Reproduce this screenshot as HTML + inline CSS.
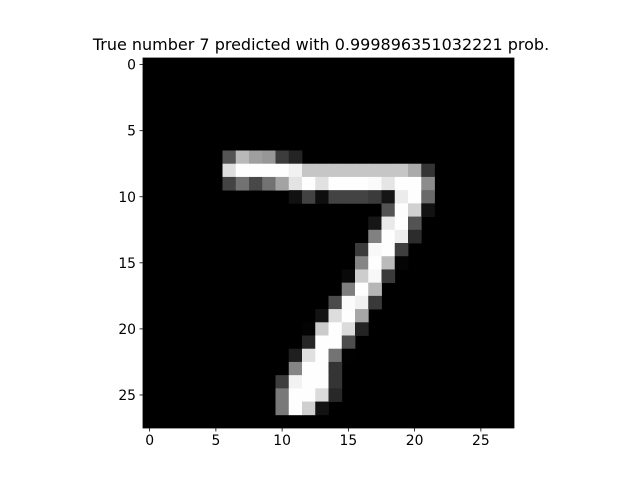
<!DOCTYPE html>
<html><head><meta charset="utf-8"><style>
html,body{margin:0;padding:0;background:#fff;}
svg{display:block;font-family:"DejaVu Sans","Liberation Sans",sans-serif;}
</style></head><body>
<svg id="chart" width="640" height="480" viewBox="0 0 640 480">
<rect x="0" y="0" width="640" height="480" fill="#fff"/>
<text x="321" y="50" font-size="16" text-anchor="middle">True number 7 predicted with 0.999896351032221 prob.</text>
<g id="img"></g>
<g id="axes"></g>
</svg>
<script>
// MNIST digit pixel intensities: rows with nonzero pixels
const rowIndex = [7,8,9,10,11,12,13,14,15,16,17,18,19,20,21,22,23,24,25,26];
const rowStart = [6,6,6,11,18,17,17,16,16,15,15,14,13,12,12,11,11,10,10,10];
const rowValues = [
 [84,185,159,151,60,36],
 [222,254,254,254,254,241,198,198,198,198,198,198,198,198,170,52],
 [67,114,72,114,163,227,254,225,254,254,254,250,229,254,254,140],
 [17,66,14,67,67,67,59,21,236,254,106],
 [83,253,209,18],
 [22,233,255,83],
 [129,254,238,44],
 [59,249,254,62],
 [133,254,187,5],
 [9,205,248,58],
 [126,254,182],
 [75,251,240,57],
 [19,221,254,166],
 [3,203,254,219,35],
 [38,254,254,77],
 [31,224,254,115,1],
 [133,254,254,52],
 [61,242,254,254,52],
 [121,254,254,219,40],
 [121,254,207,18]
];
const xTicks = [0,5,10,15,20,25];
const yTicks = [0,5,10,15,20,25];

const NS = "http://www.w3.org/2000/svg";
const X0 = 143, X1 = 514, Y0 = 58, Y1 = 428, N = 28;
const cw = (X1 - X0) / N, ch = (Y1 - Y0) / N;
const xs = c => X0 + c * cw;
const ys = r => Y0 + r * ch;
const img = document.getElementById('img');
const axes = document.getElementById('axes');
function mk(tag, attrs, parent){ const e=document.createElementNS(NS,tag); for(const k in attrs) e.setAttribute(k,attrs[k]); parent.appendChild(e); return e; }

const bg = mk('rect',{x:X0,y:Y0,width:X1-X0,height:Y1-Y0,fill:'#000'},img);



rowIndex.forEach((r,i)=>{
  rowValues[i].forEach((v,j)=>{
    const c = rowStart[i]+j;
    const g = Math.round(v*255/255);
    const p = mk('rect',{x:xs(c).toFixed(2),y:ys(r).toFixed(2),width:(cw+0.4).toFixed(2),height:(ch+0.4).toFixed(2),fill:`rgb(${g},${g},${g})`},img);
    
    
  });
});

const frame = mk('rect',{x:X0,y:Y0,width:X1-X0,height:Y1-Y0,fill:'none',stroke:'#000','stroke-width':0.8},axes);



xTicks.forEach(t=>{
  const x = xs(t+0.5);
  const l = mk('line',{x1:x,y1:Y1,x2:x,y2:Y1+3.5,stroke:'#000','stroke-width':0.8},axes);
  
  
  const tx = mk('text',{x:x,y:Y1+17,'font-size':13.9,'text-anchor':'middle'},axes);
  tx.textContent = t;
  
  
});
yTicks.forEach(t=>{
  const y = ys(t+0.5);
  const l = mk('line',{x1:X0-3.5,y1:y,x2:X0,y2:y,stroke:'#000','stroke-width':0.8},axes);
  
  
  const tx = mk('text',{x:X0-7,y:y+5,'font-size':13.9,'text-anchor':'end'},axes);
  tx.textContent = t;
  
  
});
</script>
</body></html>
